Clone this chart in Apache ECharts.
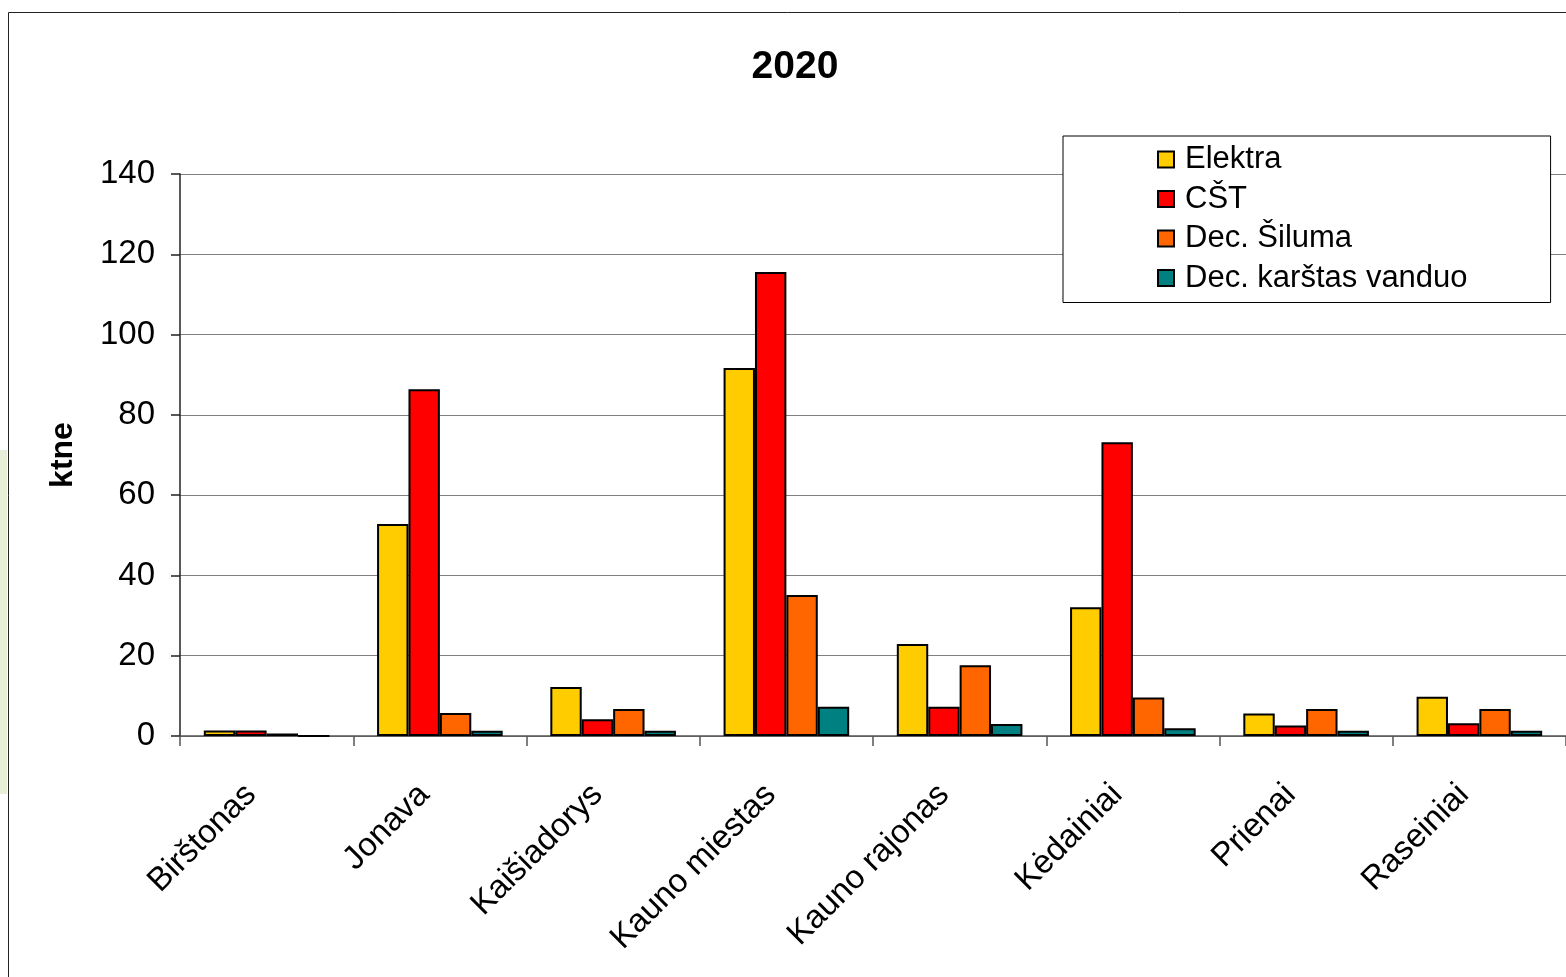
<!DOCTYPE html>
<html>
<head>
<meta charset="utf-8">
<title>2020</title>
<script src="https://cdn.jsdelivr.net/npm/echarts@6/dist/echarts.min.js"></script>
<style>
  html, body { margin: 0; padding: 0; background: #fff; }
  #chart { width: 1566px; height: 977px; }
</style>
</head>
<body>
<div id="chart"></div>
<script>
// savivaldybės
const categories = ['Birštonas', 'Jonava', 'Kaišiadorys', 'Kauno miestas', 'Kauno rajonas', 'Kėdainiai', 'Prienai', 'Raseiniai'];

// ktne, nuskaityta nuo paveikslo
const elektra = [1.4, 52.8, 12.2, 91.7, 22.9, 32.1, 5.6, 9.8];
const cst = [1.4, 86.4, 4.2, 115.6, 7.3, 73.2, 2.6, 3.2];
const decSiluma = [0.6, 5.7, 6.7, 35.1, 17.6, 9.6, 6.7, 6.7];
const decKarstas = [0, 1.3, 1.3, 7.3, 3.0, 1.9, 1.3, 1.3];

const seriesNames = ['Elektra', 'CŠT', 'Dec. Šiluma', 'Dec. karštas vanduo'];
const seriesColors = ['#FFCC00', '#FF0000', '#FF6600', '#008080'];
const seriesData = [elektra, cst, decSiluma, decKarstas];

const yTicks = { min: 0, max: 140, interval: 20 };

const font = '"Liberation Sans", Arial, sans-serif';

const chart = echarts.init(document.getElementById('chart'));

const option = {
  backgroundColor: '#ffffff',
  animation: false,
  textStyle: { fontFamily: font, color: '#000' },
  title: {
    text: '2020',
    left: 790,
    top: 43,
    textAlign: 'center',
    textStyle: { fontFamily: font, fontSize: 39, fontWeight: 'bold', color: '#000' }
  },
  graphic: [
    // rėmelis aplink diagramą
    {
      type: 'rect',
      z: -10,
      shape: { x: 8.5, y: 12.5, width: 1700, height: 1100 },
      style: { fill: 'none', stroke: '#222', lineWidth: 1 }
    },
    // žalsva juosta kairėje
    {
      type: 'rect',
      z: -10,
      shape: { x: 0, y: 450, width: 7, height: 344 },
      style: { fill: '#E7EFD9' }
    }
  ],
  legend: {
    orient: 'vertical',
    left: 1063,
    top: 136,
    padding: [8, 83, 9, 94],
    itemGap: 8.5,
    itemWidth: 16,
    itemHeight: 16,
    icon: 'rect',
    backgroundColor: '#ffffff',
    borderColor: '#000',
    borderWidth: 1,
    textStyle: { fontFamily: font, fontSize: 31, lineHeight: 31, color: '#000', padding: [0, 0, 0, 6] },
    data: seriesNames
  },
  grid: {
    left: 180,
    top: 174,
    width: 1390,
    height: 562,
    containLabel: false
  },
  xAxis: {
    type: 'category',
    data: categories,
    axisLine: { lineStyle: { color: '#555', width: 1.5 } },
    axisTick: { show: true, length: 10, lineStyle: { color: '#555', width: 1.5 } },
    axisLabel: {
      rotate: 45,
      margin: 38,
      padding: [0, 22, 0, 0],
      fontFamily: font,
      fontSize: 33,
      color: '#000',
      interval: 0
    }
  },
  yAxis: {
    type: 'value',
    min: yTicks.min,
    max: yTicks.max,
    interval: yTicks.interval,
    name: 'ktne',
    nameLocation: 'middle',
    nameRotate: 90,
    nameGap: 101,
    nameTextStyle: { fontFamily: font, fontSize: 32, fontWeight: 'bold', color: '#000' },
    axisLine: { show: true, lineStyle: { color: '#222', width: 1.5 } },
    axisTick: { show: true, length: 9, lineStyle: { color: '#222', width: 1.5 } },
    axisLabel: { margin: 25, fontFamily: font, fontSize: 33, color: '#000' },
    splitLine: { show: true, lineStyle: { color: '#808080', width: 1.2 } }
  },
  series: seriesNames.map((name, i) => ({
    name: name,
    type: 'bar',
    data: seriesData[i],
    barGap: '0%',
    barCategoryGap: '27.5%',
    itemStyle: { color: seriesColors[i], borderColor: '#000', borderWidth: 2 }
  }))
};

chart.setOption(option);
</script>
</body>
</html>
